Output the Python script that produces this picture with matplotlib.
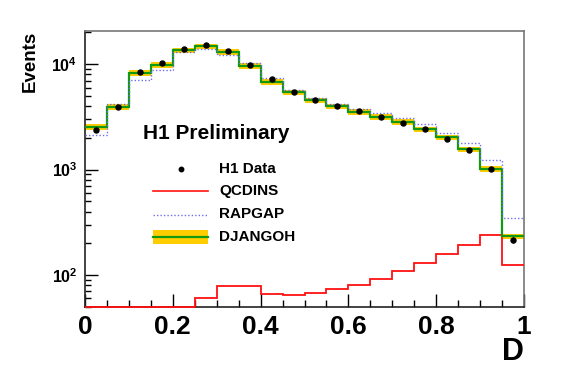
import numpy as np
import matplotlib
matplotlib.use("Agg")
import matplotlib.pyplot as plt
from matplotlib.ticker import FixedLocator, NullFormatter
from matplotlib.patches import Rectangle
from matplotlib.lines import Line2D

plt.rcParams['font.family'] = ['Liberation Sans', 'DejaVu Sans']
plt.rcParams['font.weight'] = 'bold'
plt.rcParams['mathtext.fontset'] = 'custom'
plt.rcParams['mathtext.rm'] = 'Liberation Sans:bold'
plt.rcParams['mathtext.bf'] = 'Liberation Sans:bold'
plt.rcParams['mathtext.it'] = 'Liberation Sans:bold'

# ---- data ----
bin_edges = np.round(np.arange(0, 1.0001, 0.05), 2)
h1_data = [2380, 3900, 8490, 10260, 13940, 15110, 13250, 9890, 7280, 5480,
           4545, 4040, 3620, 3130, 2790, 2410, 1940, 1525, 1013, 215]
h1_err = [60, 90, 150, 170, 200, 210, 190, 160, 130, 110,
          100, 90, 85, 80, 75, 70, 60, 55, 45, 16]
djangoh = [2536, 3926, 8300, 9825, 13490, 14790, 13060, 9680, 6820, 5410,
           4545, 3987, 3541, 3155, 2829, 2412, 2025, 1558, 1013, 232]
rapgap = [2143, 4192, 7034, 8750, 13060, 13940, 12140, 10330, 7396, 5690,
          4777, 4192, 3784, 3422, 3108, 2708, 2225, 1788, 1234, 345]
qcdins = [50, 50, 50, 50, 50, 60.9, 78.1, 79.1, 66.5, 64.6,
          67.9, 73.3, 80.9, 92.2, 109.8, 129.1, 156.5, 193.9, 238.1, 124.5]
band_frac = 0.06
legend_labels = ["H1 Data", "QCDINS", "RAPGAP", "DJANGOH"]

W, H = 567, 384
fig = plt.figure(figsize=(W / 100, H / 100), dpi=100)
ax = fig.add_axes([85 / W, 1 - 307 / H, 439 / W, 276 / H])

dj = np.array(djangoh)
ax.stairs(dj * (1 + band_frac), bin_edges, baseline=dj * (1 - band_frac),
          fill=True, color='#ffcc00', lw=0, zorder=1)
ax.stairs(dj, bin_edges, color='#119911', lw=1.6, zorder=3, baseline=None)
ax.stairs(rapgap, bin_edges, color='#6f6fee', lw=1.0, ls=(0, (1, 1.5)),
          zorder=4, baseline=None)
ax.stairs(qcdins, bin_edges, color='#ff1010', lw=1.3, zorder=2.7,
          baseline=None, clip_on=False)
centers = 0.5 * (bin_edges[:-1] + bin_edges[1:])
ax.errorbar(centers, h1_data, yerr=h1_err, fmt='o', color='black',
            ms=3.6, elinewidth=1, capsize=0, zorder=5)

ax.set_yscale('log')
ax.set_xlim(0, 1)
ax.set_ylim(49.7, 20650)

ax.set_xticks([0, 0.2, 0.4, 0.6, 0.8, 1.0])
ax.set_xticklabels(["0", "0.2", "0.4", "0.6", "0.8", "1"], fontsize=19,
                   fontweight='bold')
ax.xaxis.set_minor_locator(FixedLocator(np.arange(0.05, 1.0, 0.05)))
ax.set_yticks([100, 1000, 10000])
ax.set_yticklabels([r'$\mathbf{10^{2}}$', r'$\mathbf{10^{3}}$',
                    r'$\mathbf{10^{4}}$'], fontsize=11.5)
minors = [m * 10 ** d for d in (1, 2, 3, 4) for m in range(2, 10)]
ax.yaxis.set_minor_locator(FixedLocator(minors))
ax.yaxis.set_minor_formatter(NullFormatter())

ax.tick_params(which='both', direction='in', top=False, right=False)
ax.tick_params(axis='x', which='major', length=9.5, width=1, pad=6)
ax.tick_params(axis='x', which='minor', length=5, width=1)
ax.tick_params(axis='y', which='major', length=9, width=1, pad=5.5)
ax.tick_params(axis='y', which='minor', length=4.5, width=1)
for s in ('left', 'bottom'):
    ax.spines[s].set_color('#222222')
    ax.spines[s].set_linewidth(1.2)
for s in ('top', 'right'):
    ax.spines[s].set_color('#777777')
    ax.spines[s].set_linewidth(1.2)

def fx(x):
    return x / W

def fy(y):
    return 1 - y / H

fig.text(fx(30), fy(61), "Events", rotation=90, fontsize=13.5,
         fontweight='bold', ha='center', va='center')
fig.text(fx(513), fy(352), "D", fontsize=22, fontweight='bold',
         ha='center', va='center')
fig.text(fx(143), fy(134), "H1 Preliminary", fontsize=15, fontweight='bold',
         ha='left', va='center')

ys = [169, 191, 214.5, 237]
fig.add_artist(Line2D([fx(180.5)], [fy(ys[0])], marker='o', ms=3.2,
                      color='black', ls='none', transform=fig.transFigure))
fig.add_artist(Line2D([fx(153), fx(208)], [fy(ys[1])] * 2, color='#ff1010',
                      lw=1.2, transform=fig.transFigure))
fig.add_artist(Line2D([fx(153), fx(208)], [fy(ys[2])] * 2, color='#6f6fee',
                      lw=1.0, ls=(0, (1, 1.5)), transform=fig.transFigure))
fig.add_artist(Rectangle((fx(153), fy(244)), fx(55), 14 / H,
                         color='#ffcc00', lw=0, transform=fig.transFigure))
fig.add_artist(Line2D([fx(153), fx(208)], [fy(ys[3])] * 2, color='#119911',
                      lw=1.6, transform=fig.transFigure))
for lab, y in zip(legend_labels, ys):
    fig.text(fx(219), fy(y), lab, fontsize=11, fontweight='bold',
             ha='left', va='center')

fig.savefig("out.png", dpi=100)
